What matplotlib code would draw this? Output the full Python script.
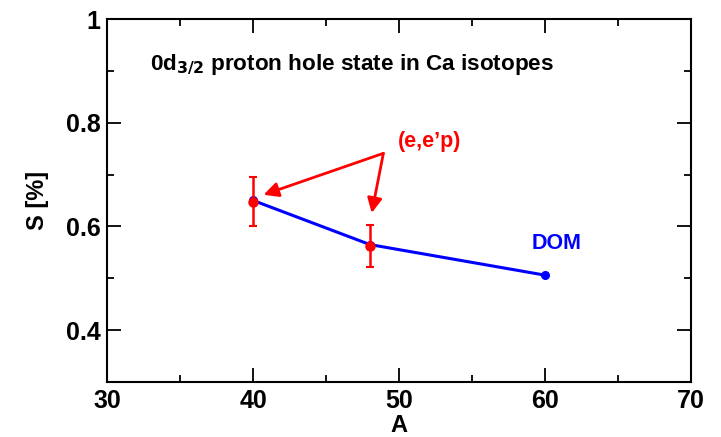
import matplotlib
matplotlib.use("Agg")
import matplotlib.pyplot as plt
from matplotlib.ticker import FuncFormatter, MultipleLocator

plt.rcParams["font.family"] = ["Liberation Sans", "DejaVu Sans"]
plt.rcParams["font.weight"] = "bold"

# --- data ---
dom_A = [40, 48, 60]
dom_S = [0.650, 0.565, 0.506]
exp_A = [40, 48]
exp_S = [0.648, 0.562]
exp_err = [0.048, 0.040]

COL_RED = "#FF0000"
COL_BLUE = "#0000FF"

fig = plt.figure(figsize=(7.21, 4.37), dpi=100, facecolor="white")
ax = fig.add_axes([0.1488, 0.1259, 0.8096, 0.8306])

ax.plot(dom_A, dom_S, color=COL_BLUE, lw=2.2, marker="o", ms=5.5, zorder=2)
ax.errorbar(exp_A, exp_S, yerr=exp_err, fmt="o", color=COL_RED, ms=6.5,
            elinewidth=1.8, capsize=3, capthick=1.5, zorder=3)

# arrows from the (e,e'p) label
tail = (48.92, 0.741)
for head in [(40.71, 0.661), (48.12, 0.626)]:
    ax.annotate("", xy=head, xytext=tail,
                arrowprops=dict(arrowstyle="-|>", color=COL_RED, lw=2.0,
                                mutation_scale=22, shrinkA=0, shrinkB=0))
ax.text(52.1, 0.763, "(e,e\u2019p)", color=COL_RED, fontsize=15.5, fontweight="bold",
        ha="center", va="center")
ax.text(59.1, 0.568, "DOM", color=COL_BLUE, fontsize=15.5, fontweight="bold",
        ha="left", va="center")
ax.text(32.9, 0.902, r"0d$_{\mathbf{3/2}}$ proton hole state in Ca isotopes",
        fontsize=16.2, fontweight="bold", ha="left", va="baseline")

ax.set_xlim(30, 70)
ax.set_ylim(0.3, 1.0)
ax.xaxis.set_major_locator(MultipleLocator(10))
ax.xaxis.set_minor_locator(MultipleLocator(5))
ax.yaxis.set_minor_locator(MultipleLocator(0.1))
ax.set_yticks([0.4, 0.6, 0.8, 1.0])
ax.yaxis.set_major_formatter(FuncFormatter(lambda v, p: f"{v:g}"))

for s in ax.spines.values():
    s.set_linewidth(1.5)
ax.tick_params(which="both", direction="in", top=True, right=True, width=1.3,
               labelsize=18, pad=5)
ax.tick_params(which="major", length=10)
ax.tick_params(which="minor", length=5)
for lab in ax.get_xticklabels() + ax.get_yticklabels():
    lab.set_fontweight("bold")

ax.set_xlabel("A", fontsize=17, fontweight="bold", labelpad=1)
ax.set_ylabel("S [%]", fontsize=17, fontweight="bold", labelpad=12)

fig.savefig("out.png", dpi=100, facecolor="white")
